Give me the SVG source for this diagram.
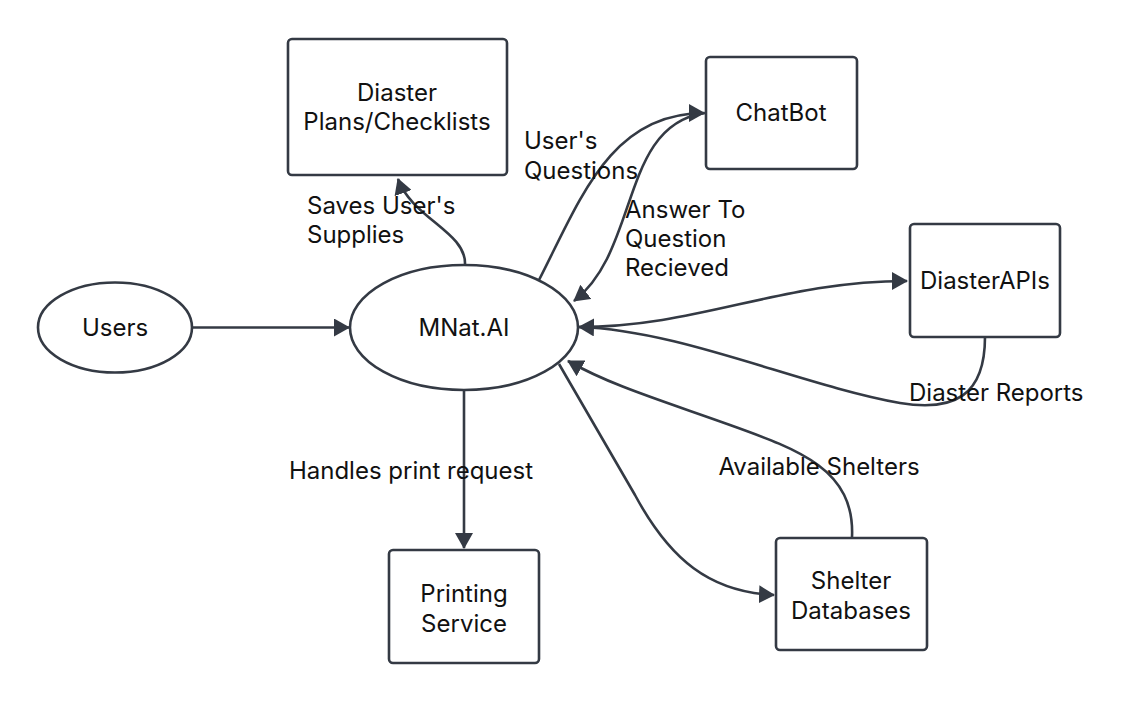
<svg xmlns="http://www.w3.org/2000/svg" width="1128" height="701" viewBox="0 0 1128 701">
<style>
.n{fill:#fff;stroke:#343a44;stroke-width:2.6}
.e{fill:none;stroke:#343a44;stroke-width:2.6}
text{font-family:Inter,"Liberation Sans",sans-serif;font-size:24px;fill:#111}
.c{text-anchor:middle}
</style>
<defs>
<marker id="ah" viewBox="0 0 16 18" refX="15" refY="9" markerWidth="16" markerHeight="18" markerUnits="userSpaceOnUse" orient="auto">
<path d="M0,0 L16,9 L0,18 Z" fill="#343a44"/>
</marker>
</defs>
<rect width="1128" height="701" fill="#fff"/>
<g id="connectors">
<path class="e" d="M192,327.5 L349,327.5" marker-end="url(#ah)"/>
<path class="e" d="M465,264 C466,232 412,218 398,179" marker-end="url(#ah)"/>
<path class="e" d="M539,280 C580,200 610,113 704,113" marker-end="url(#ah)"/>
<path class="e" d="M705,113 C620,125 640,250 574,301" marker-end="url(#ah)"/>
<path class="e" d="M578,327 C700,327 780,281 907,281" marker-end="url(#ah)"/>
<path class="e" d="M985,337 C985,395 955,412 900,403 C800,385 680,330 579,327" marker-end="url(#ah)"/>
<path class="e" d="M559,364 L635,495 C670,560 710,592 774,595" marker-end="url(#ah)"/>
<path class="e" d="M852,537 C855,470 800,450 730,425 C660,400 610,385 568,361" marker-end="url(#ah)"/>
<path class="e" d="M464,390 L464,548" marker-end="url(#ah)"/>
</g>
<g id="labels">
<text x="307" y="214">Saves User's</text>
<text x="307" y="243">Supplies</text>
<text x="524" y="149">User's</text>
<text x="524" y="179">Questions</text>
<text x="625" y="218">Answer To</text>
<text x="625" y="247">Question</text>
<text x="625" y="276">Recieved</text>
<text x="909" y="401">Diaster Reports</text>
<text x="819" y="475" class="c">Available Shelters</text>
<text x="411" y="479" class="c">Handles print request</text>
</g>
<g id="users">
<ellipse class="n" cx="115" cy="327.5" rx="77" ry="45"/>
<text x="115" y="336" class="c">Users</text>
</g>
<g id="mnat">
<ellipse class="n" cx="464" cy="327.5" rx="114" ry="62.5"/>
<text x="464" y="336" class="c">MNat.AI</text>
</g>
<g id="plans">
<rect class="n" x="288" y="39" width="219" height="136" rx="4"/>
<text x="397" y="101" class="c">Diaster</text>
<text x="397" y="130" class="c">Plans/Checklists</text>
</g>
<g id="chatbot">
<rect class="n" x="706" y="57" width="151" height="112" rx="4"/>
<text x="781" y="121" class="c">ChatBot</text>
</g>
<g id="apis">
<rect class="n" x="910" y="224" width="150" height="113" rx="4"/>
<text x="985" y="289" class="c">DiasterAPIs</text>
</g>
<g id="shelter">
<rect class="n" x="776" y="538" width="151" height="112" rx="4"/>
<text x="851" y="589" class="c">Shelter</text>
<text x="851" y="619" class="c">Databases</text>
</g>
<g id="printing">
<rect class="n" x="389" y="550" width="150" height="113" rx="4"/>
<text x="464" y="602" class="c">Printing</text>
<text x="464" y="632" class="c">Service</text>
</g>
</svg>
